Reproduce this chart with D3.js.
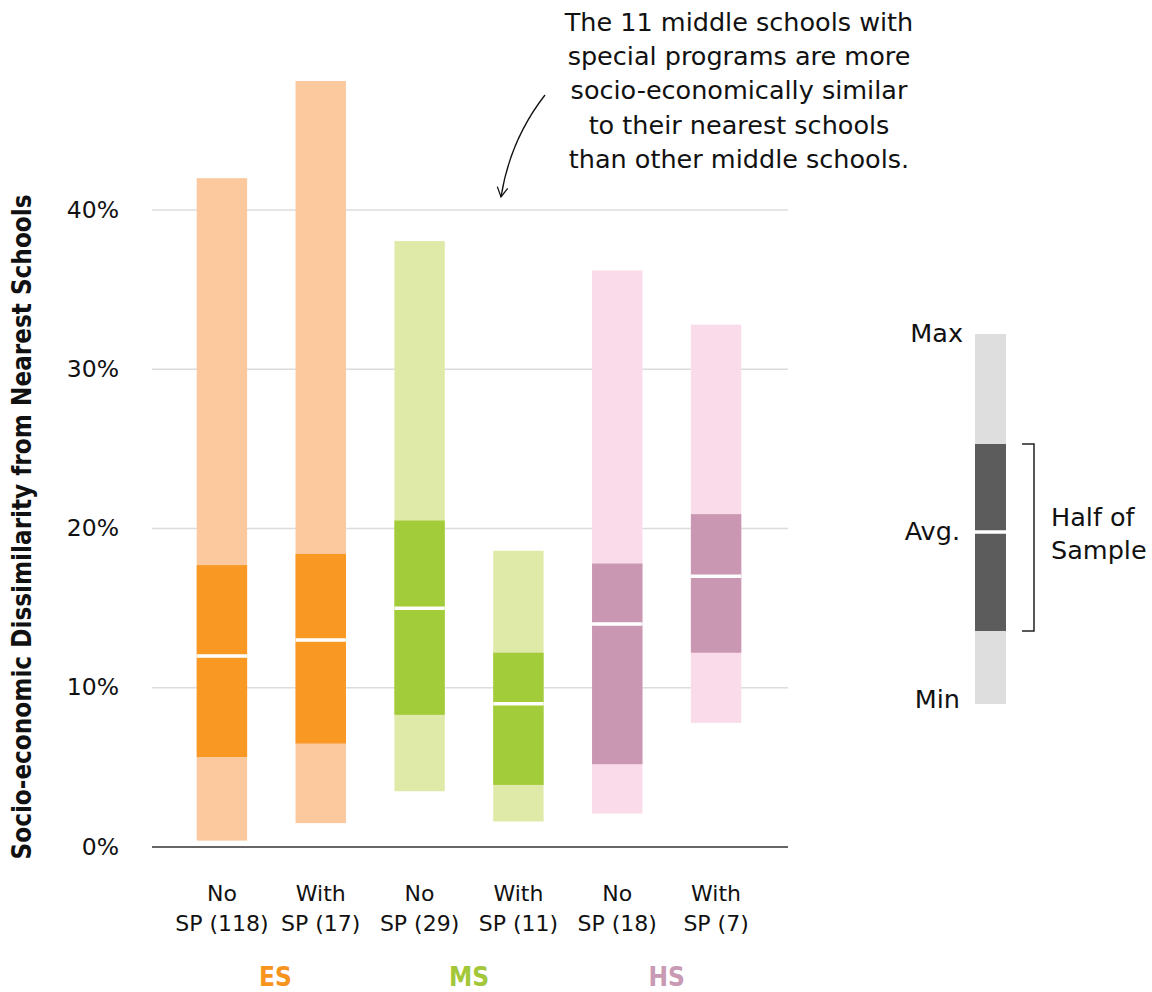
<!DOCTYPE html>
<html>
<head>
<meta charset="utf-8">
<script src="https://cdn.jsdelivr.net/npm/d3@7"></script>
<style>
  html, body { margin: 0; padding: 0; background: #fff; }
  svg { display: block; }
  text { font-family: "DejaVu Sans", "Liberation Sans", Arial, sans-serif; fill: #111; }
</style>
</head>
<body>
<svg id="chart" width="1152" height="992"></svg>
<script>
// ---- data ----
const groups   = ["ES", "ES", "MS", "MS", "HS", "HS"];
const line1    = ["No", "With", "No", "With", "No", "With"];
const line2    = ["SP (118)", "SP (17)", "SP (29)", "SP (11)", "SP (18)", "SP (7)"];
const minVals  = [0.4, 1.5, 3.5, 1.6, 2.1, 7.8];
const q1Vals   = [5.65, 6.5, 8.3, 3.9, 5.2, 12.2];
const avgVals  = [12.0, 13.0, 15.0, 9.0, 14.0, 17.0];
const q3Vals   = [17.7, 18.4, 20.5, 12.2, 17.8, 20.9];
const maxVals  = [42.0, 48.1, 38.05, 18.6, 36.2, 32.8];
const yTicks   = [0, 10, 20, 30, 40];
const groupNames = ["ES", "MS", "HS"];
const lightColors = {ES: "#fcc99f", MS: "#e0eaa8", HS: "#f9dbe9"};
const darkColors  = {ES: "#f99823", MS: "#a2cc3a", HS: "#c997b2"};
const textColors  = {ES: "#f7941d", MS: "#a2c83a", HS: "#c99ab4"};
const annotation = [
  "The 11 middle schools with",
  "special programs are more",
  "socio-economically similar",
  "to their nearest schools",
  "than other middle schools."
];

const svg = d3.select("#chart");
const ids = d3.range(line1.length);

const x = d3.scaleBand().domain(ids).range([172.5, 765.5]).paddingInner(0.49).paddingOuter(0.245);
const y = d3.scaleLinear().domain([0, 40]).range([847, 210]);

// gridlines
svg.append("g").selectAll("line").data(yTicks.filter(d => d > 0)).join("line")
  .attr("x1", 152).attr("x2", 788)
  .attr("y1", d => y(d)).attr("y2", d => y(d))
  .attr("stroke", "#dcdcdc").attr("stroke-width", 1.5);

// y tick labels
svg.append("g").selectAll("text").data(yTicks).join("text")
  .attr("x", 119).attr("y", d => y(d)).attr("dy", "0.32em")
  .attr("text-anchor", "end").style("font-size", "23.5px")
  .text(d => d + "%");

// axis title
svg.append("text")
  .attr("transform", "translate(31,527) rotate(-90)")
  .attr("text-anchor", "middle")
  .style("font-family", "'DejaVu Sans Condensed','DejaVu Sans',sans-serif")
  .style("font-stretch", "condensed")
  .style("font-weight", "bold").style("font-size", "26px")
  .attr("textLength", 665).attr("lengthAdjust", "spacingAndGlyphs")
  .text("Socio-economic Dissimilarity from Nearest Schools");

// bars
const bars = svg.append("g");
ids.forEach(i => {
  const g = groups[i];
  const bx = x(i), bw = x.bandwidth();
  bars.append("rect").attr("x", bx).attr("width", bw)
    .attr("y", y(maxVals[i])).attr("height", y(minVals[i]) - y(maxVals[i]))
    .attr("fill", lightColors[g]);
  bars.append("rect").attr("x", bx).attr("width", bw)
    .attr("y", y(q3Vals[i])).attr("height", y(q1Vals[i]) - y(q3Vals[i]))
    .attr("fill", darkColors[g]);
  bars.append("line").attr("x1", bx).attr("x2", bx + bw)
    .attr("y1", y(avgVals[i])).attr("y2", y(avgVals[i]))
    .attr("stroke", "#fff").attr("stroke-width", 3.5);
});

// baseline
svg.append("line").attr("x1", 152).attr("x2", 788)
  .attr("y1", y(0)).attr("y2", y(0))
  .attr("stroke", "#666").attr("stroke-width", 2);

// x labels
const xl = svg.append("g");
ids.forEach(i => {
  const cx = x(i) + x.bandwidth() / 2;
  xl.append("text").attr("x", cx).attr("y", 901).attr("text-anchor", "middle")
    .style("font-size", "22px").text(line1[i]);
  xl.append("text").attr("x", cx).attr("y", 931).attr("text-anchor", "middle")
    .style("font-size", "22px").text(line2[i]);
});

// group labels
groupNames.forEach(gn => {
  const members = ids.filter(i => groups[i] === gn);
  const cx = d3.mean(members, i => x(i) + x.bandwidth() / 2);
  svg.append("text").attr("x", cx + (gn === "ES" ? 4 : 0)).attr("y", 986).attr("text-anchor", "middle")
    .style("font-family", "'DejaVu Sans Condensed','DejaVu Sans',sans-serif")
    .style("font-stretch", "condensed")
    .style("font-weight", "bold").style("font-size", "26px")
    .style("fill", textColors[gn]).text(gn);
});

// annotation
const ann = svg.append("text").attr("text-anchor", "middle").style("font-size", "25.5px");
annotation.forEach((t, k) => {
  ann.append("tspan").attr("x", 739).attr("y", 31 + k * 34.2).text(t);
});

// arrow
const p0 = [545, 95], pc = [510, 140], p1 = [501, 197];
svg.append("path")
  .attr("d", `M${p0[0]},${p0[1]} Q${pc[0]},${pc[1]} ${p1[0]},${p1[1]}`)
  .attr("fill", "none").attr("stroke", "#111").attr("stroke-width", 1.3);
const ang = Math.atan2(p1[1] - pc[1], p1[0] - pc[0]);
const hl = 11, ha = 0.5;
const a1 = [p1[0] - hl * Math.cos(ang - ha), p1[1] - hl * Math.sin(ang - ha)];
const a2 = [p1[0] - hl * Math.cos(ang + ha), p1[1] - hl * Math.sin(ang + ha)];
svg.append("path")
  .attr("d", `M${a1[0]},${a1[1]} L${p1[0]},${p1[1]} L${a2[0]},${a2[1]}`)
  .attr("fill", "none").attr("stroke", "#111").attr("stroke-width", 1.3);

// legend
const lg = svg.append("g");
const L = {x: 975, w: 31, max: 334, q3: 444, avg: 532, q1: 631, min: 704};
lg.append("rect").attr("x", L.x).attr("width", L.w).attr("y", L.max).attr("height", L.min - L.max).attr("fill", "#dedede");
lg.append("rect").attr("x", L.x).attr("width", L.w).attr("y", L.q3).attr("height", L.q1 - L.q3).attr("fill", "#5b5c5b");
lg.append("line").attr("x1", L.x).attr("x2", L.x + L.w).attr("y1", L.avg).attr("y2", L.avg)
  .attr("stroke", "#fff").attr("stroke-width", 3.5);
lg.append("path").attr("d", `M1022,${L.q3} H1034 V${L.q1} H1022`)
  .attr("fill", "none").attr("stroke", "#222").attr("stroke-width", 1.5);
const legLabel = (t, xx, yy, anchor) => lg.append("text").attr("x", xx).attr("y", yy)
  .attr("dy", "0.35em").attr("text-anchor", anchor).style("font-size", "25.5px").text(t);
legLabel("Max", 963, 333, "end");
legLabel("Avg.", 960, 531, "end");
legLabel("Min", 960, 699, "end");
legLabel("Half of", 1051, 517, "start");
legLabel("Sample", 1051, 550, "start");
</script>
</body>
</html>
